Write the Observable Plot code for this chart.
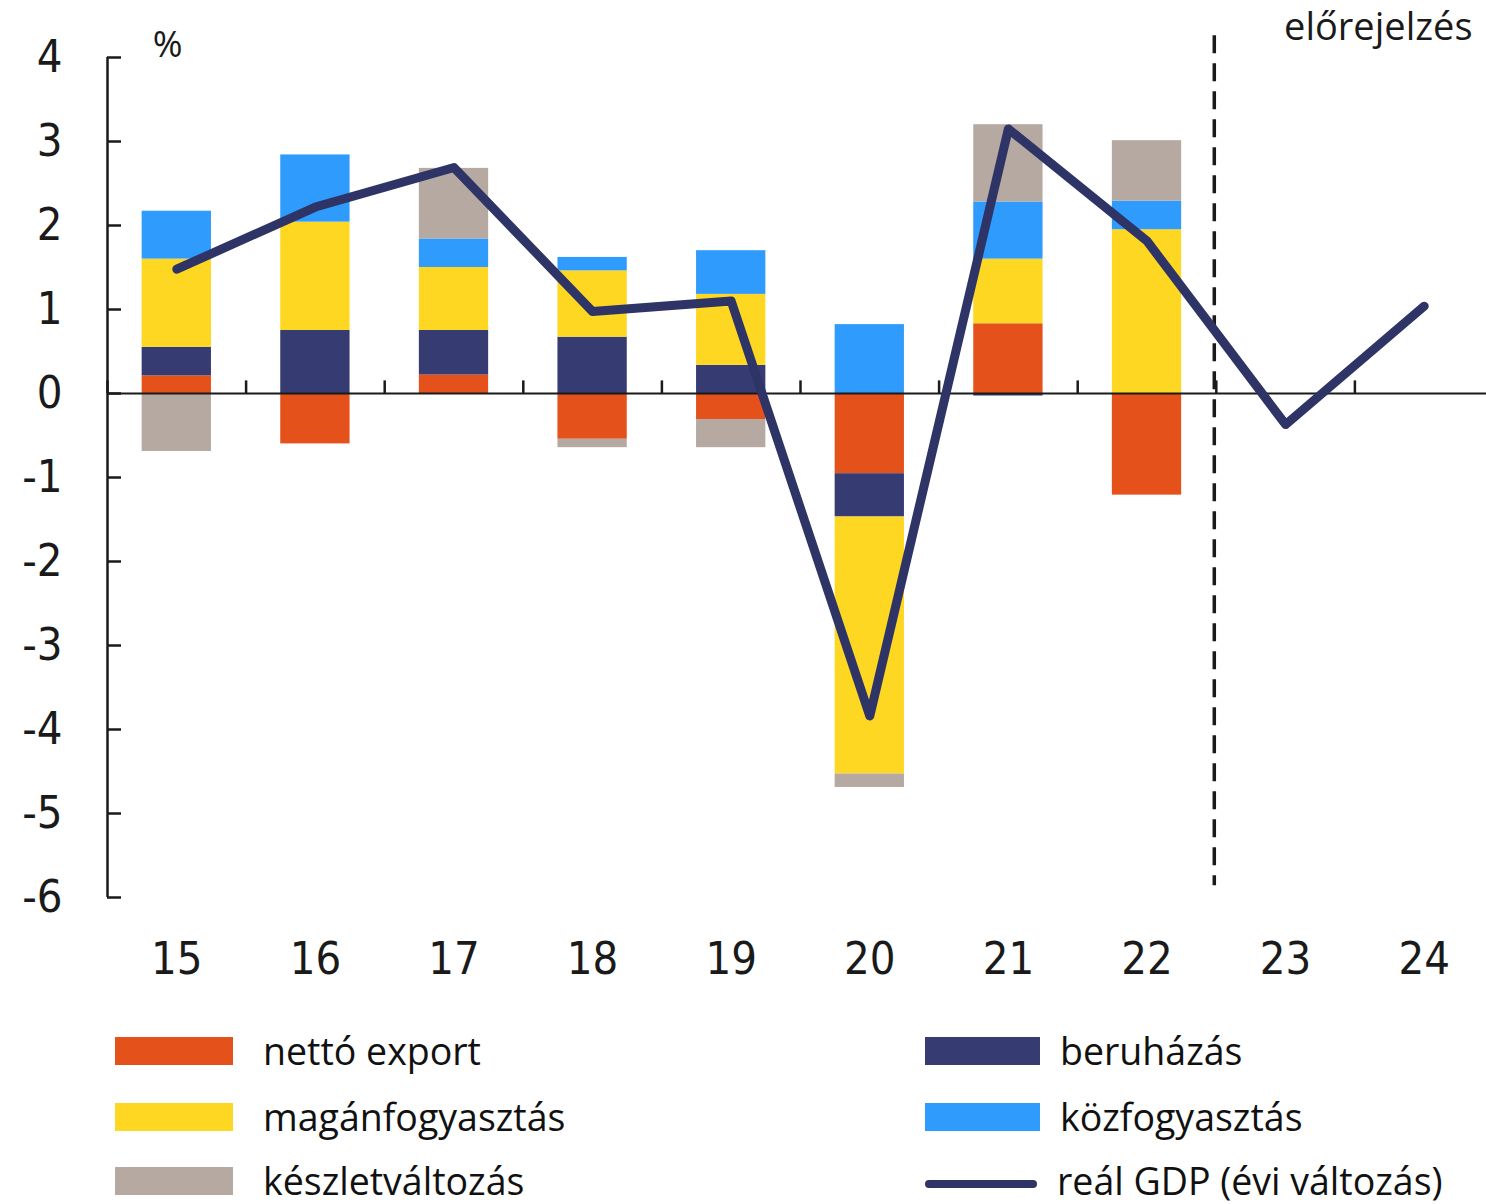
<!DOCTYPE html>
<html>
<head>
<meta charset="utf-8">
<script src="https://cdn.jsdelivr.net/npm/d3@7"></script>
<script src="https://cdn.jsdelivr.net/npm/@observablehq/plot@0.6"></script>
<style>
  html, body { margin: 0; padding: 0; background: #fff; overflow: hidden; }
  #wrap { position: relative; width: 1486px; height: 1204px; }
  #wrap svg { max-width: none !important; display: block; }
  g[aria-label="y-axis tick label"] text, g[aria-label="x-axis tick label"] text {
    font-family: "DejaVu Sans Condensed", "DejaVu Sans", sans-serif; font-stretch: condensed;
  }
  .leg { position: absolute; height: 30px; display: flex; align-items: center;
         font-family: "Open Sans", sans-serif; font-size: 37.5px; color: #111; line-height: 30px; white-space: nowrap; }
  .sw { display: inline-block; }
</style>
</head>
<body>
<div id="wrap"></div>
<script>
// ---- data ----
const years = ["15", "16", "17", "18", "19", "20", "21", "22", "23", "24"];
const seriesNames = ["nettó export", "beruházás", "magánfogyasztás", "közfogyasztás", "készletváltozás"];
const seriesColors = ["#e5511a", "#363b72", "#fed723", "#2f9bfd", "#b5a9a2"];
const nettoExport     = [0.21, -0.60, 0.22, -0.545, -0.31, -0.955, 0.83, -1.21, null, null];
const beruhazas       = [0.34, 0.75, 0.53, 0.67, 0.335, -0.515, -0.03, 0, null, null];
const maganfogyasztas = [1.05, 1.29, 0.75, 0.79, 0.845, -3.06, 0.77, 1.95, null, null];
const kozfogyasztas   = [0.57, 0.80, 0.34, 0.16, 0.52, 0.82, 0.68, 0.34, null, null];
const keszletvaltozas = [-0.69, 0, 0.84, -0.10, -0.335, -0.16, 0.92, 0.72, null, null];
const realGDP         = [1.48, 2.22, 2.69, 0.975, 1.10, -3.84, 3.15, 1.815, -0.37, 1.04];
const gdpName = "reál GDP (évi változás)";
const gdpColor = "#2e3466";
const yTicks = [4, 3, 2, 1, 0, -1, -2, -3, -4, -5, -6];
const forecastLabel = "előrejelzés";
const forecastAfter = "22";
const forecastRuleTop = 4.26, forecastRuleBottom = -5.86;
const unitLabel = "%";

// ---- layout ----
const W = 1486, H = 1010;
const mL = 107, mR = -7, mT = 57, mB = 113;
const frameW = W - mL - mR;
const step = frameW / years.length;
const ink = "#1a1a1a";

const seriesValues = [nettoExport, beruhazas, maganfogyasztas, kozfogyasztas, keszletvaltozas];
const rows = seriesNames.flatMap((s, i) => years.map((y, j) => ({year: y, series: s, value: seriesValues[i][j]})))
  .filter(d => d.value != null && d.value !== 0);
const gdp = years.map((y, j) => ({year: y, value: realGDP[j]}));

const chart = Plot.plot({
  width: W, height: H,
  marginLeft: mL, marginRight: mR, marginTop: mT, marginBottom: mB,
  x: {type: "band", domain: years, paddingInner: 0.5, paddingOuter: 0.25, round: false, label: null, axis: null},
  y: {domain: [-6, 4], label: null, axis: null},
  color: {domain: seriesNames, range: seriesColors},
  style: {background: "white", overflow: "hidden"},
  marks: [
    Plot.barY(rows, {x: "year", y: "value", fill: "series", order: seriesNames}),
    // y axis line and ticks (inward)
    Plot.ruleX([years[0]], {y1: yTicks[yTicks.length - 1], y2: yTicks[0], dx: -step / 2, stroke: ink, strokeWidth: 2.5}),
    Plot.tickY(yTicks, {y: d => d, insetRight: frameW - 14, stroke: ink, strokeWidth: 2.5}),
    Plot.axisY(yTicks, {tickSize: 0, tickPadding: 45, fontSize: 45, fill: ink, tickFormat: d => String(d)}),
    // zero line + category boundary ticks
    Plot.ruleY([0], {stroke: ink, strokeWidth: 2}),
    Plot.ruleX(years, {x: d => d, y1: 0, y2: 0.15, dx: -step / 2, stroke: ink, strokeWidth: 2.5}),
    Plot.axisX({tickSize: 0, tickPadding: 45, fontSize: 45, fill: ink}),
    // forecast divider
    Plot.ruleX([forecastAfter], {y1: forecastRuleTop, y2: forecastRuleBottom, dx: step / 2 - 2, stroke: ink, strokeWidth: 3.5, strokeDasharray: "18,10"}),
    // GDP line
    Plot.line(gdp, {x: "year", y: "value", stroke: gdpColor, strokeWidth: 9, strokeLinecap: "round", strokeLinejoin: "round"}),
    // texts
    Plot.text([unitLabel], {frameAnchor: "top-left", lineAnchor: "middle", dx: 60, dy: -12, textAnchor: "middle", fontSize: 36, fontFamily: "Open Sans", fill: ink}),
    Plot.text([forecastLabel], {frameAnchor: "top-right", lineAnchor: "middle", dx: -21, dy: -30, textAnchor: "end", fontSize: 38, fontFamily: "Open Sans", fill: ink})
  ]
});
const wrap = document.getElementById("wrap");
wrap.appendChild(chart);

// ---- legend ----
const legendItems = [
  {name: seriesNames[0], color: seriesColors[0], type: "rect", col: 0, row: 0},
  {name: seriesNames[2], color: seriesColors[2], type: "rect", col: 0, row: 1},
  {name: seriesNames[4], color: seriesColors[4], type: "rect", col: 0, row: 2},
  {name: seriesNames[1], color: seriesColors[1], type: "rect", col: 1, row: 0},
  {name: seriesNames[3], color: seriesColors[3], type: "rect", col: 1, row: 1},
  {name: gdpName, color: gdpColor, type: "line", col: 1, row: 2}
];
const colX = [115, 925];
const swW = [118, 115];
const textGap = [30, 20];
const rowCenter = [1051, 1117, 1181];
for (const it of legendItems) {
  const d = document.createElement("div");
  d.className = "leg";
  d.style.left = colX[it.col] + "px";
  d.style.top = (rowCenter[it.row] - 15) + "px";
  const s = document.createElement("span");
  s.className = "sw";
  s.style.width = swW[it.col] + "px";
  s.style.background = it.color;
  if (it.type === "rect") { s.style.height = "28px"; }
  else { s.style.height = "8px"; s.style.borderRadius = "4px"; s.style.width = (swW[it.col] - 3) + "px"; s.style.marginTop = "6px"; }
  s.style.marginRight = textGap[it.col] + "px";
  const t = document.createElement("span");
  t.textContent = it.name;
  d.appendChild(s); d.appendChild(t);
  wrap.appendChild(d);
}
</script>
</body>
</html>
